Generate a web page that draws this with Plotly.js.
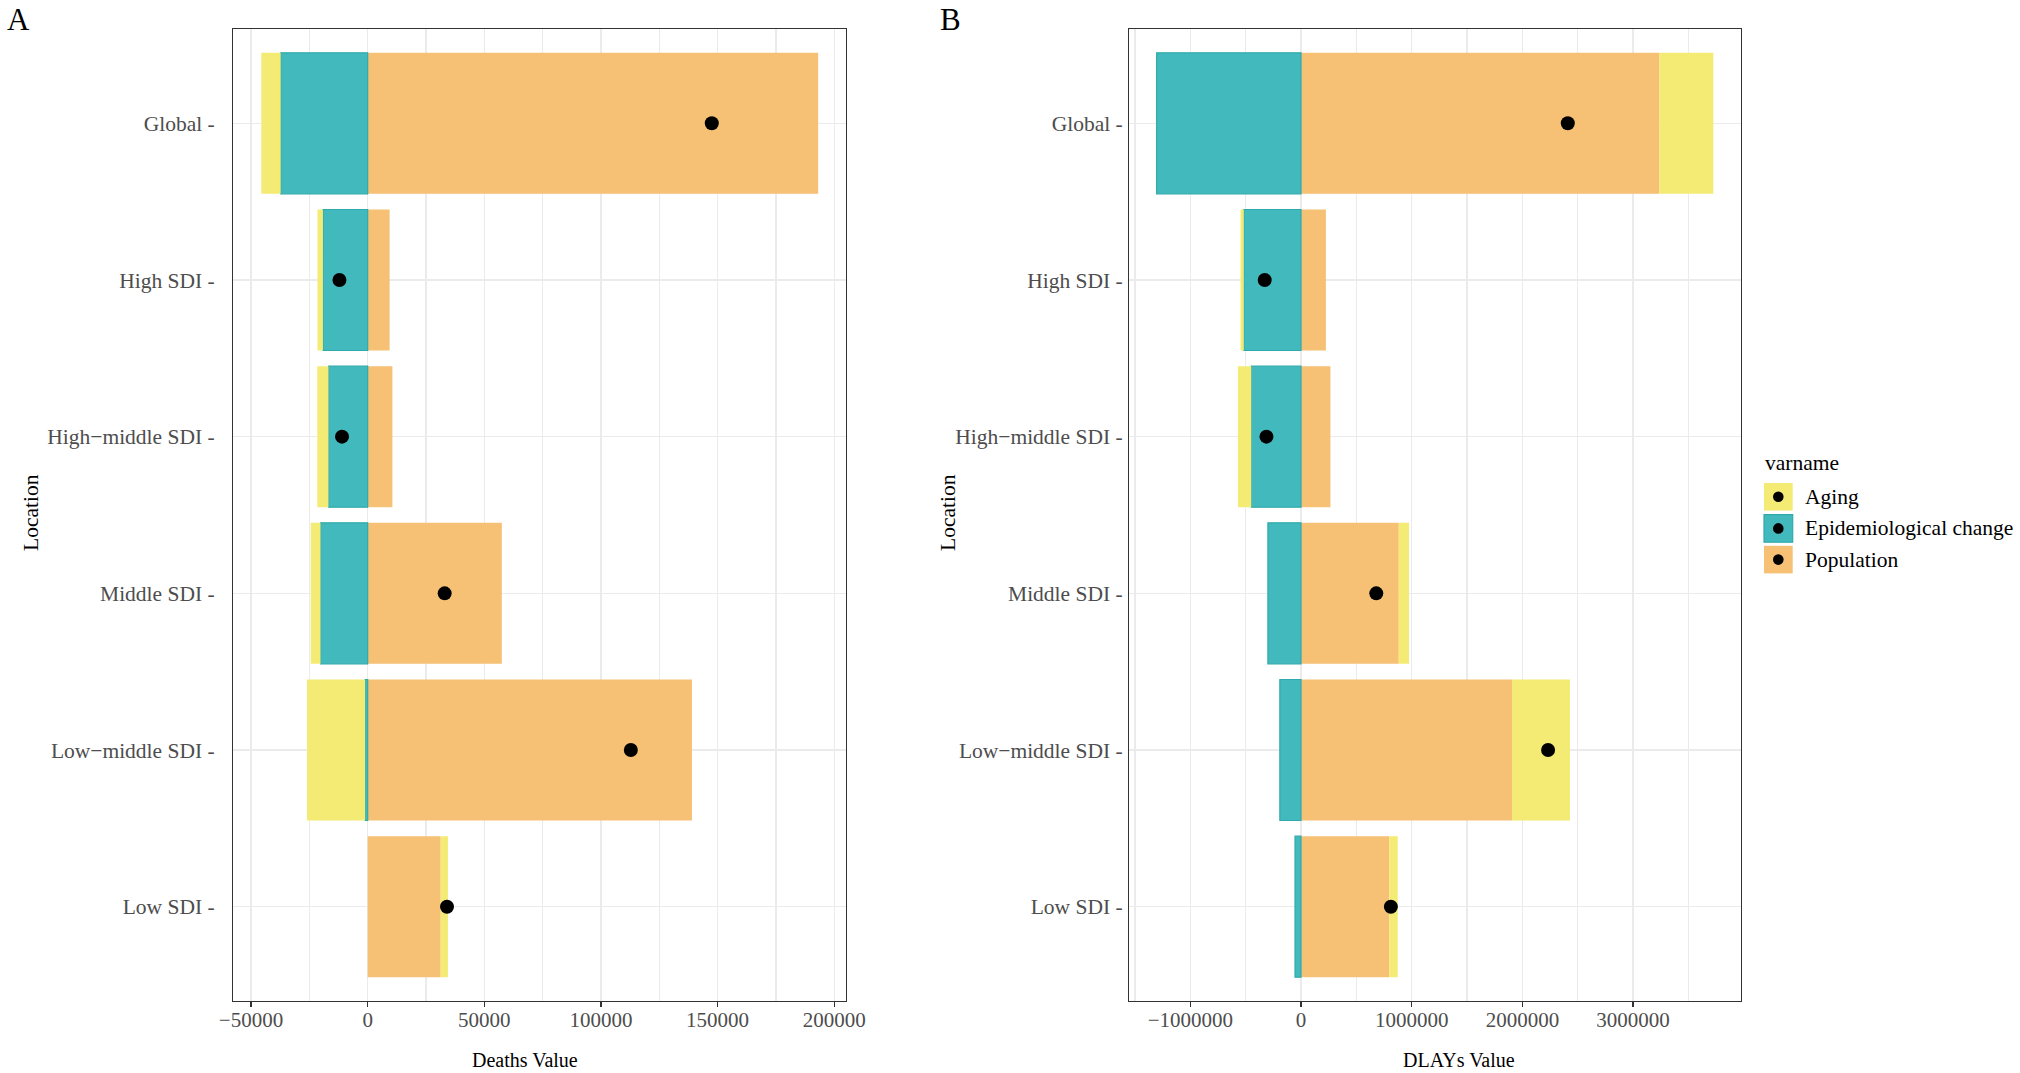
<!DOCTYPE html>
<html>
<head>
<meta charset="utf-8">
<script src="https://cdn.plot.ly/plotly-3.0.1.min.js"></script>
<style>html,body{margin:0;padding:0;background:#fff;}#chart{width:2020px;height:1073px;}</style>
</head>
<body>
<div id="chart"></div>
<script>
// ---------- data ----------
var categories = ["Global", "High SDI", "High-middle SDI", "Middle SDI", "Low-middle SDI", "Low SDI"];
var categoryLabels = ["Global -", "High SDI -", "High\u2212middle SDI -", "Middle SDI -", "Low\u2212middle SDI -", "Low SDI -"];

// Panel A: Deaths
var agingDeaths = [-8300, -2300, -4800, -4200, -24900, 3100];
var epiDeaths   = [-37300, -19200, -16800, -20200, -1100, 0];
var popDeaths   = [193100, 9400, 10600, 57500, 139000, 31300];
var totalDeaths = [147500, -12100, -11000, 33000, 112800, 34000];

// Panel B: DALYs
var agingDalys = [489000, -29000, -121000, 93000, 524000, 76000];
var epiDalys   = [-1304000, -517000, -449000, -299000, -191000, -54000];
var popDalys   = [3236000, 225000, 266000, 883000, 1906000, 798000];
var totalDalys = [2410000, -328000, -312000, 680000, 2232000, 812000];

// tick labels
var deathsTickVals = [-50000, 0, 50000, 100000, 150000, 200000];
var deathsTickText = ["\u221250000", "0", "50000", "100000", "150000", "200000"];
var dalysTickVals = [-1000000, 0, 1000000, 2000000, 3000000];
var dalysTickText = ["\u22121000000", "0", "1000000", "2000000", "3000000"];

var seriesNames = ["Aging", "Epidemiological change", "Population"];
var legendTitle = "varname";

// ---------- styling ----------
var W = 2020, H = 1073;
var FONT = "Liberation Serif, Times New Roman, serif";
var colAging = "#F4EB74", colEpi = "#42BABD", colPop = "#F6C174";
var colEpiLine = "#2FA9AB";
function px(x) { return x / W; }
function py(y) { return 1 - y / H; }

function barTrace(vals, name, color, line, xa, ya) {
  var lw = vals.map(function (v) { return (line && v !== 0) ? 1.2 : 0; });
  return {
    type: "bar", orientation: "h", name: name, x: vals, y: categories,
    xaxis: xa, yaxis: ya, showlegend: false, hoverinfo: "skip",
    marker: { color: color, line: { color: line || color, width: lw } }
  };
}
function dotTrace(vals, xa, ya) {
  return {
    type: "scatter", mode: "markers", x: vals, y: categories, xaxis: xa, yaxis: ya,
    showlegend: false, hoverinfo: "skip",
    marker: { color: "#000000", size: 14, line: { width: 0 } }
  };
}

var data = [
  barTrace(popDeaths, seriesNames[2], colPop, null, "x", "y"),
  barTrace(epiDeaths, seriesNames[1], colEpi, colEpiLine, "x", "y"),
  barTrace(agingDeaths, seriesNames[0], colAging, null, "x", "y"),
  dotTrace(totalDeaths, "x", "y"),
  barTrace(popDalys, seriesNames[2], colPop, null, "x2", "y2"),
  barTrace(epiDalys, seriesNames[1], colEpi, colEpiLine, "x2", "y2"),
  barTrace(agingDalys, seriesNames[0], colAging, null, "x2", "y2"),
  dotTrace(totalDalys, "x2", "y2")
];

function xAxis(domain, range, tv, tt, minorStep, anchor) {
  return {
    domain: domain, range: range, anchor: anchor, type: "linear",
    tickmode: "array", tickvals: tv, ticktext: tt,
    showgrid: true, gridcolor: "#EBEBEB", gridwidth: 1.5,
    minor: { dtick: minorStep, tick0: 0, showgrid: true, gridcolor: "#EBEBEB", gridwidth: 1.2, ticks: "" },
    zeroline: false, showline: true, mirror: true, linecolor: "#333333", linewidth: 1.3,
    ticks: "outside", ticklen: 5, tickwidth: 1.4, tickcolor: "#333333",
    ticklabelstandoff: -5,
    tickfont: { family: FONT, size: 21, color: "#4D4D4D" }, fixedrange: true
  };
}
function yAxis(domain, anchor, standoff) {
  return {
    domain: domain, anchor: anchor, type: "category",
    categoryorder: "array", categoryarray: categories,
    tickmode: "array", tickvals: categories, ticktext: categoryLabels,
    range: [5.6, -0.6],
    showgrid: true, gridcolor: "#EBEBEB", gridwidth: 1.5,
    zeroline: false, showline: true, mirror: true, linecolor: "#333333", linewidth: 1.3,
    ticks: "", ticklabelstandoff: standoff,
    tickfont: { family: FONT, size: 21.5, color: "#4D4D4D" }, fixedrange: true
  };
}

var yDom = [py(1000.7), py(29.3)];
var layout = {
  width: W, height: H,
  margin: { l: 0, r: 0, t: 0, b: 0 },
  paper_bgcolor: "#FFFFFF", plot_bgcolor: "#FFFFFF",
  barmode: "relative", bargap: 0.1,
  showlegend: false,
  font: { family: FONT, color: "#000000" },
  xaxis: xAxis([px(233.3), px(845.7)], [-57600, 204900], deathsTickVals, deathsTickText, 25000, "y"),
  yaxis: yAxis(yDom, "x", 13),
  xaxis2: xAxis([px(1129.3), px(1740.7)], [-1551000, 3972000], dalysTickVals, dalysTickText, 500000, "y2"),
  yaxis2: yAxis(yDom, "x2", 1),
  annotations: [],
  shapes: []
};

function ann(text, x, y, opts) {
  var a = {
    text: text, xref: "paper", yref: "paper", x: px(x), y: py(y),
    xanchor: "center", yanchor: "middle", showarrow: false,
    font: { family: FONT, size: 21, color: "#000000" }
  };
  for (var k in opts) a[k] = opts[k];
  layout.annotations.push(a);
}
ann("A", 5, 19, { xanchor: "left", font: { family: FONT, size: 31, color: "#000" } });
ann("B", 938, 19, { xanchor: "left", font: { family: FONT, size: 31, color: "#000" } });
ann("Deaths Value", 524.5, 1060, { font: { family: FONT, size: 20, color: "#000" } });
ann("DLAYs Value", 1459, 1060, { font: { family: FONT, size: 20, color: "#000" } });
ann("Location", 31, 513, { textangle: -90, font: { family: FONT, size: 21.5, color: "#000" } });
ann("Location", 948, 513, { textangle: -90, font: { family: FONT, size: 21.5, color: "#000" } });

// ---------- legend (drawn by hand to mimic ggplot keys) ----------
ann(legendTitle, 1763, 463, { xanchor: "left", font: { family: FONT, size: 21.5, color: "#000" } });
var keyCols = [colAging, colEpi, colPop];
var keyLines = [colAging, colEpiLine, colPop];
var keyTops = [483, 514.6, 545.8];
for (var i = 0; i < 3; i++) {
  var t = keyTops[i], b = t + 27.6, cx = 1778.3, cy = (t + b) / 2, r = 5.3;
  layout.shapes.push({ type: "rect", xref: "paper", yref: "paper",
    x0: px(1764), x1: px(1792.7), y0: py(b), y1: py(t),
    fillcolor: keyCols[i], line: { color: keyLines[i], width: i === 1 ? 1.2 : 0 } });
  layout.shapes.push({ type: "circle", xref: "paper", yref: "paper",
    x0: px(cx - r), x1: px(cx + r), y0: py(cy + r), y1: py(cy - r),
    fillcolor: "#000000", line: { width: 0 } });
  ann(seriesNames[i], 1803, cy, { xanchor: "left", font: { family: FONT, size: 21.5, color: "#000" } });
}

Plotly.newPlot("chart", data, layout, { displayModeBar: false, staticPlot: true });
</script>
</body>
</html>
